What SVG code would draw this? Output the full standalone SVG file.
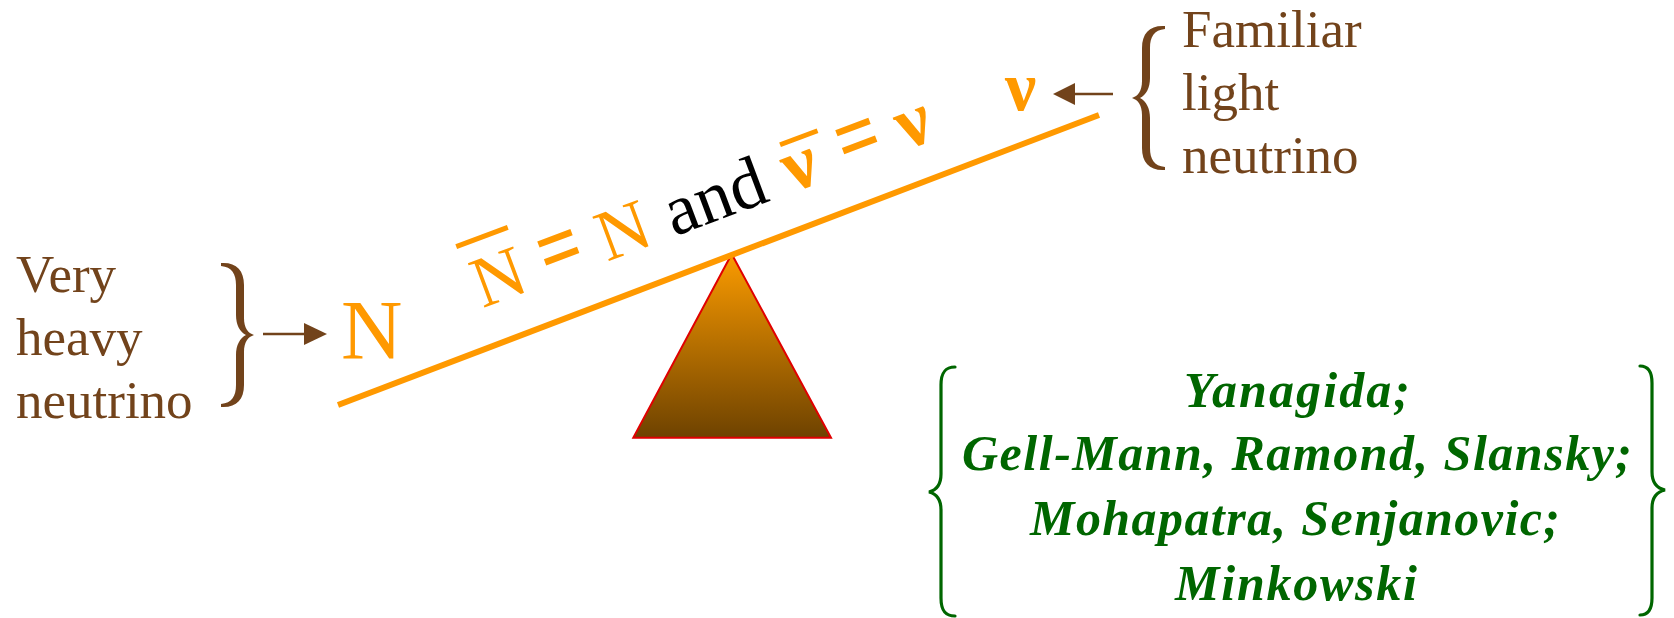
<svg xmlns="http://www.w3.org/2000/svg" width="1674" height="618" viewBox="0 0 1674 618">
<defs>
<style>
text{font-family:'Liberation Serif','Times New Roman',serif}
.brown{fill:#72431B;font-size:53px}
.or{fill:#FF9900}
.blk{fill:#000}
.eq{fill:#FF9900;font-weight:bold}
.grn{fill:#006600;font-size:50px;font-weight:bold;font-style:italic}
.bar{stroke:#FF9900;stroke-width:5;fill:none}
.arr{stroke:#72431B;stroke-width:2.5;fill:none}
.gbrace{stroke:#006600;stroke-width:3.2;fill:none;stroke-linecap:round}
</style>
<linearGradient id="tri" x1="0" y1="0" x2="0" y2="1">
<stop offset="0" stop-color="#FB9B00"/>
<stop offset="1" stop-color="#6E4200"/>
</linearGradient>
<path id="brace" d="M0,0 C15,-1 23,7 23,22 L23,55 C23,65 27,70 33,72 C27,74 23,79 23,89 L23,122 C23,137 15,145 0,144 L0,141 C11,140 15,133 15,122 L15,92 C15,82 19,75 25,72 C19,69 15,62 15,52 L15,22 C15,11 11,4 0,3 Z" fill="#72431B"/>
</defs>
<rect width="1674" height="618" fill="#fff"/>

<g id="fulcrum">
<polygon points="731.7,254 831,437.7 633.3,437.7" fill="url(#tri)" stroke="#E00000" stroke-width="2"/>
</g>

<g id="beam">
<line x1="338" y1="405" x2="1099" y2="115" stroke="#FF9900" stroke-width="6"/>
</g>

<g id="heavy-label">
<text class="brown" x="16" y="292">Very</text>
<text class="brown" x="16" y="355">heavy</text>
<text class="brown" x="16" y="418">neutrino</text>
<use href="#brace" transform="translate(221,263)"/>
</g>

<g id="heavy-N">
<text class="or" x="341" y="359" font-size="85">N</text>
</g>

<g id="light-label">
<text class="brown" x="1182" y="47">Familiar</text>
<text class="brown" x="1182" y="110">light</text>
<text class="brown" x="1182" y="173">neutrino</text>
<use href="#brace" transform="translate(1165,26) scale(-1,1)"/>
</g>

<g id="light-nu">
<text class="eq" x="1005" y="110" font-size="70">ν</text>
</g>

<g id="equation" transform="translate(482.5,308.3) rotate(-20.5)">
<text class="or" x="0" y="0" font-size="72">N</text>
<line class="bar" x1="-3" y1="-67" x2="52" y2="-67"/>
<text class="eq" transform="translate(71,1) scale(1,1.25)" font-size="76">=</text>
<text class="or" x="133" y="0" font-size="72">N</text>
<text class="blk" x="204.5" y="0" font-size="72">and</text>
<text class="eq" x="330" y="0" font-size="76">ν</text>
<line class="bar" x1="336" y1="-49" x2="376" y2="-49"/>
<text class="eq" transform="translate(389,1) scale(1,1.25)" font-size="76">=</text>
<text class="eq" x="451" y="0" font-size="76">ν</text>
</g>

<g id="authors">
<path class="gbrace" d="M955,367 C944,367 941,374 941,385 L941,474 C941,484 937,490 929,492 C937,494 941,500 941,510 L941,598 C941,609 944,616 955,616"/>
<path class="gbrace" d="M1640,366 C1648,366 1652,372 1652,383 L1652,472 C1652,482 1656,488 1665,490 C1656,492 1652,498 1652,508 L1652,598 C1652,609 1648,615 1640,615"/>
<text class="grn" x="1297" y="407" text-anchor="middle" textLength="226" lengthAdjust="spacing">Yanagida;</text>
<text class="grn" x="1297" y="470" text-anchor="middle" textLength="670" lengthAdjust="spacing">Gell-Mann, Ramond, Slansky;</text>
<text class="grn" x="1295" y="535" text-anchor="middle" textLength="530" lengthAdjust="spacing">Mohapatra, Senjanovic;</text>
<text class="grn" x="1296" y="600" text-anchor="middle" textLength="242" lengthAdjust="spacing">Minkowski</text>
</g>

<g id="connectors">
<line class="arr" x1="263" y1="334" x2="306" y2="334"/>
<polygon points="327,334 304,323 304,345" fill="#72431B"/>
<line class="arr" x1="1113" y1="94" x2="1073" y2="94"/>
<polygon points="1053,94 1075,83 1075,105" fill="#72431B"/>
</g>
</svg>
